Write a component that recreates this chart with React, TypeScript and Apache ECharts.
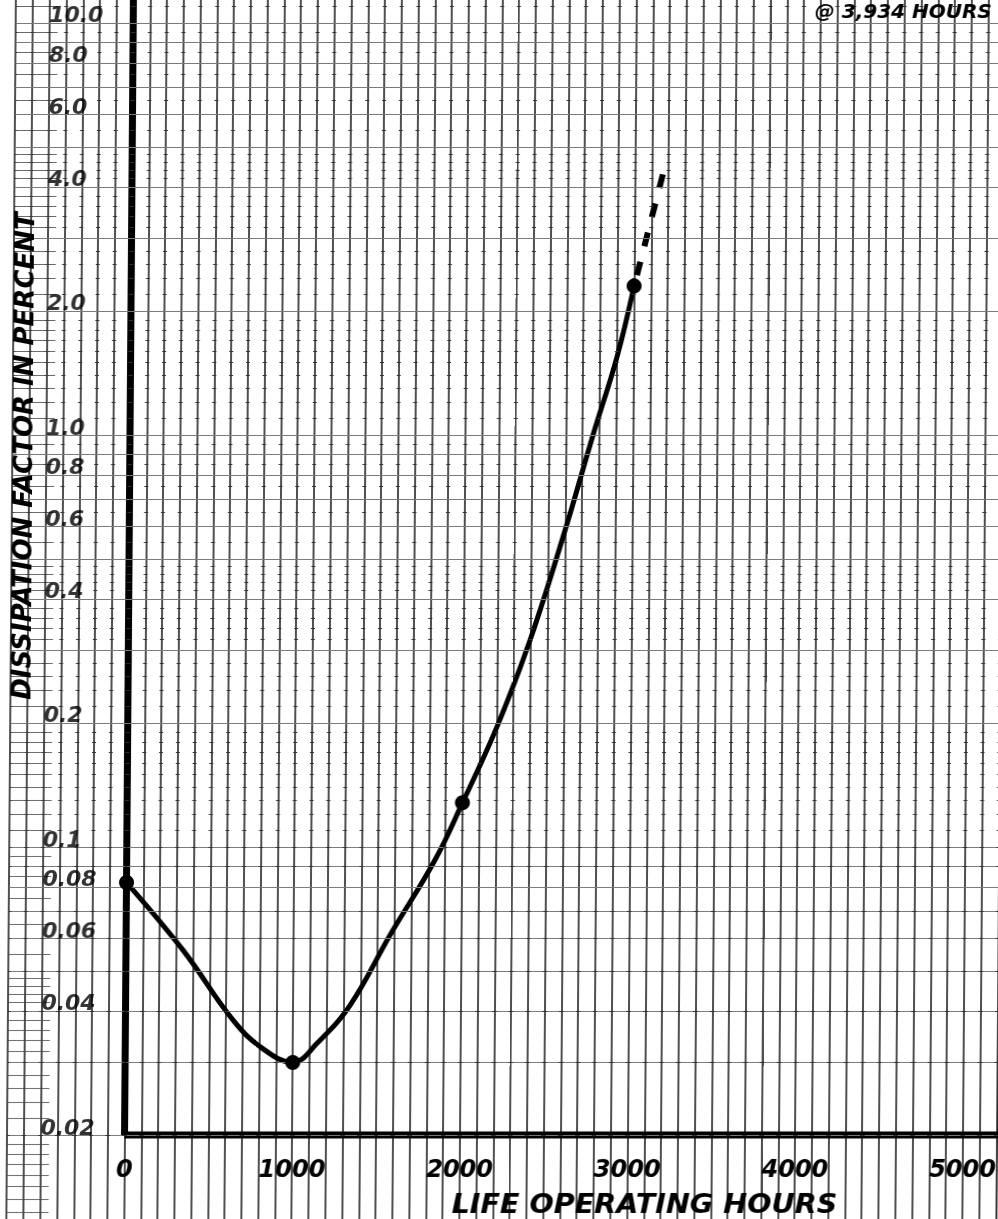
import React, { useEffect, useRef } from 'react';
import * as echarts from 'echarts';

// ---------- data ----------
const xTickValues = [0, 1000, 2000, 3000, 4000, 5000];
const xTickLabels = ['0', '1000', '2000', '3000', '4000', '5000'];
const yTickValues = [0.02, 0.04, 0.06, 0.08, 0.1, 0.2, 0.4, 0.6, 0.8, 1, 2, 4, 6, 8, 10];
const yTickLabels = ['0.02', '0.04', '0.06', '0.08', '0.1', '0.2', '0.4', '0.6', '0.8', '1.0', '2.0', '4.0', '6.0', '8.0', '10.0'];

// log-paper rulings
const gridDecades = [0.01, 0.1, 1, 10];
const majorMultipliers = [1, 2, 3, 4, 5, 6, 7, 8, 9];
const minorMultipliers = [1.1, 1.2, 1.3, 1.4, 1.5, 1.6, 1.7, 1.8, 1.9, 2.2, 2.4, 2.6, 2.8, 3.2, 3.4, 3.6, 3.8, 4.2, 4.4, 4.6, 4.8, 5.5, 6.5, 7.5, 8.5, 9.5];

// measured curve (life operating hours, dissipation factor %)
const curveHours = [0, 340, 642, 816, 1000, 1144, 1339, 1574, 1839, 2000, 2203, 2396, 2600, 2762, 2901, 3000];
const curveValues = [0.082, 0.0562, 0.038, 0.0325, 0.03, 0.0334, 0.0413, 0.0611, 0.093, 0.128, 0.196, 0.318, 0.588, 1.0, 1.546, 2.3];

// plotted measurement points
const pointHours = [0, 1000, 2000, 3000];
const pointValues = [0.082, 0.03, 0.128, 2.3];

// dashed extrapolation
const extHours = [3000, 3170];
const extValues = [2.3, 4.35];

// ---------- layout constants ----------
const X_MIN = -700;
const X_MAX = 5210;
const Y_MIN = 0.012506;
const Y_MAX = 11.37;
const AXIS_Y = 0.02;
const Y_LABEL_X = -505;
const HATCH_END = -450;

const FONT = 'DejaVu Sans';

function rulings(mults: number[], lo: number, hi: number): number[] {
  const out: number[] = [];
  gridDecades.forEach((d) => {
    mults.forEach((m) => {
      const v = Number((d * m).toPrecision(6));
      if (v >= lo - 1e-9 && v <= hi) out.push(v);
    });
  });
  return out;
}

function buildOption() {
  const majorVals = rulings(majorMultipliers, AXIS_Y, Y_MAX);
  const minorVals = rulings(minorMultipliers, Y_MIN, Y_MAX);
  const pxPer100 = (998 - 7.2) / (X_MAX - X_MIN) * 100;

  const textBase = { fill: '#000', fontStyle: 'italic', fontWeight: 'bold', fontFamily: FONT };

  return {
    animation: false,
    backgroundColor: '#ffffff',
    grid: { left: 7.2, right: 0, top: 0, bottom: 0, containLabel: false, outerBoundsMode: 'none' },
    xAxis: {
      type: 'value',
      min: X_MIN,
      max: X_MAX,
      interval: 100,
      axisLine: { show: false },
      axisTick: { show: false },
      splitLine: { show: true, lineStyle: { color: '#161616', width: 1.5 } },
      axisLabel: {
        show: true,
        inside: true,
        margin: 50,
        customValues: xTickValues,
        formatter: (v: number) => {
          const i = xTickValues.indexOf(v);
          return i >= 0 ? xTickLabels[i] : '';
        },
        fontSize: 24,
        fontStyle: 'italic',
        fontWeight: 'bold',
        fontFamily: FONT,
        color: '#000',
        verticalAlign: 'middle',
      },
    },
    yAxis: {
      type: 'log',
      logBase: 10,
      min: Y_MIN,
      max: Y_MAX,
      axisLine: { show: false },
      axisTick: { show: false },
      axisLabel: { show: false },
      splitLine: { show: false },
    },
    graphic: [
      {
        type: 'text',
        x: 18,
        y: 456,
        rotation: Math.PI / 2,
        z: 10,
        style: {
          ...textBase,
          text: 'DISSIPATION FACTOR IN PERCENT',
          fontSize: 26,
          align: 'center',
          verticalAlign: 'middle',
        },
      },
      {
        type: 'text',
        x: 645,
        y: 1204,
        scaleX: 1.1,
        z: 10,
        style: {
          ...textBase,
          text: 'LIFE OPERATING HOURS',
          fontSize: 26,
          align: 'center',
          verticalAlign: 'middle',
        },
      },
      {
        type: 'text',
        x: 806,
        y: 1,
        z: 10,
        style: {
          ...textBase,
          text: '@ 3,934 HOURS',
          fontSize: 20,
          align: 'left',
          verticalAlign: 'top',
        },
      },
    ],
    series: [
      {
        type: 'line',
        name: 'major rulings',
        data: [],
        silent: true,
        z: 1,
        markLine: {
          silent: true,
          animation: false,
          symbol: ['none', 'none'],
          label: { show: false },
          emphasis: { disabled: true },
          lineStyle: { color: '#7a7a7a', width: 1, type: 'solid' },
          data: majorVals.map((v) => ({ yAxis: v })),
        },
      },
      {
        type: 'line',
        name: 'minor rulings',
        data: [],
        silent: true,
        z: 1,
        markLine: {
          silent: true,
          animation: false,
          symbol: ['none', 'none'],
          label: { show: false },
          emphasis: { disabled: true },
          lineStyle: { color: '#333', width: 1, type: [4, pxPer100 - 4], dashOffset: 2 },
          data: minorVals.map((v) => ({ yAxis: v })),
        },
      },
      {
        type: 'line',
        name: 'margin rulings',
        data: [],
        silent: true,
        z: 1,
        markLine: {
          silent: true,
          animation: false,
          symbol: ['none', 'none'],
          label: { show: false },
          emphasis: { disabled: true },
          lineStyle: { color: '#444', width: 0.8, type: 'solid' },
          data: minorVals.map((v) => [{ coord: [X_MIN, v] }, { coord: [HATCH_END, v] }]),
        },
      },
      {
        type: 'line',
        name: 'y axis',
        data: [[0, AXIS_Y], [0, Y_MAX]],
        symbol: 'none',
        silent: true,
        z: 3,
        lineStyle: { color: '#000', width: 7, cap: 'butt' },
      },
      {
        type: 'line',
        name: 'x axis',
        data: [[0, AXIS_Y], [X_MAX, AXIS_Y]],
        symbol: 'none',
        silent: true,
        z: 3,
        lineStyle: { color: '#000', width: 7, cap: 'butt' },
      },
      {
        type: 'line',
        name: 'dissipation factor',
        data: curveHours.map((h, i) => [h, curveValues[i]]),
        symbol: 'none',
        smooth: 0.4,
        silent: true,
        z: 4,
        lineStyle: { color: '#000', width: 5 },
      },
      {
        type: 'line',
        name: 'extrapolation',
        data: extHours.map((h, i) => [h, extValues[i]]),
        symbol: 'none',
        silent: true,
        z: 4,
        lineStyle: { color: '#000', width: 6, type: [14, 16], dashOffset: 19, cap: 'butt' },
      },
      {
        type: 'scatter',
        name: 'measurements',
        data: pointHours.map((h, i) => [h, pointValues[i]]),
        symbol: 'circle',
        symbolSize: 15,
        silent: true,
        z: 5,
        itemStyle: { color: '#000', opacity: 1 },
      },
      {
        type: 'scatter',
        name: 'y labels',
        data: yTickValues.map((v) => [Y_LABEL_X, v]),
        symbolSize: 1,
        silent: true,
        z: 6,
        itemStyle: { color: 'rgba(0,0,0,0)' },
        label: {
          show: true,
          position: 'right',
          distance: 0,
          offset: [0, -8],
          formatter: (p: any) => yTickLabels[p.dataIndex],
          fontSize: 22,
          fontStyle: 'italic',
          fontWeight: 'bold',
          fontFamily: FONT,
          color: '#000',
        },
      },
    ],
  };
}

export default function App() {
  const ref = useRef<HTMLDivElement>(null);
  useEffect(() => {
    if (!ref.current) return;
    const chart = echarts.init(ref.current, null, { renderer: 'svg' });
    chart.setOption(buildOption() as any);
    return () => chart.dispose();
  }, []);
  return (
    <div
      ref={ref}
      style={{
        position: 'fixed',
        left: 0,
        top: 0,
        width: 998,
        height: 1219,
        background: '#fff',
        transform: 'skewX(-0.447deg)',
        transformOrigin: '0px 1135px',
      }}
    />
  );
}
